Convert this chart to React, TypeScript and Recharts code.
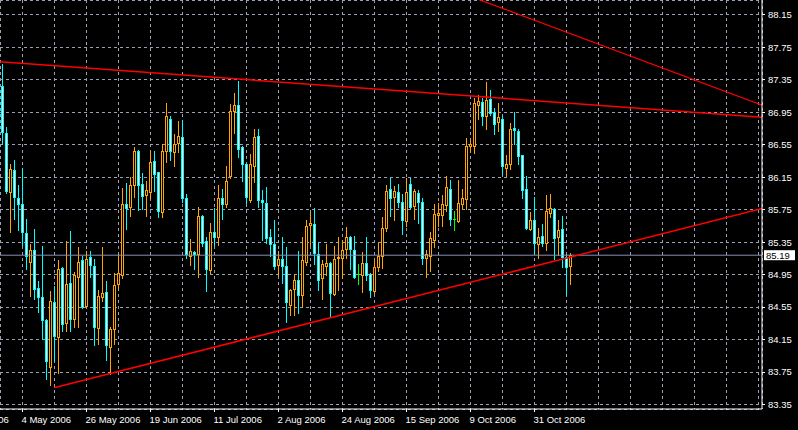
import React from 'react';
import { ComposedChart, Bar, XAxis, YAxis, CartesianGrid, ReferenceLine } from 'recharts';

// OHLC per trading bar (bar 0 = 27 Apr 2006)
const OPEN = [
  87.28, 86.69, 85.97, 86.24, 85.90, 85.82, 85.46, 85.11, 85.25, 84.78,
  84.67, 84.39, 83.81, 84.61, 84.18, 85.03, 84.35, 84.85, 84.41, 84.92,
  85.13, 84.56, 85.17, 85.06, 84.29, 84.67, 84.74, 84.06, 84.28, 84.83,
  84.95, 85.82, 85.78, 86.05, 86.48, 86.07, 85.93, 85.97, 86.35, 86.21,
  85.72, 86.47, 86.87, 86.46, 86.57, 86.65, 85.89, 85.18, 85.23, 85.20,
  85.67, 85.36, 85.01, 85.47, 85.41, 85.89, 85.82, 86.16, 86.97, 87.04,
  86.52, 86.32, 85.87, 86.29, 86.66, 85.87, 85.83, 85.41, 85.33, 85.07,
  85.14, 85.06, 84.58, 84.77, 84.88, 84.70, 85.11, 85.56, 85.58, 85.20,
  84.91, 85.06, 85.09, 84.71, 85.15, 85.15, 85.27, 85.42, 85.25, 84.96,
  84.95, 85.10, 84.96, 84.75, 85.05, 85.18, 85.52, 86.00, 85.91, 85.97,
  85.84, 85.61, 86.07, 85.80, 85.96, 85.84, 85.15, 85.18, 85.38, 85.69,
  85.69, 85.81, 86.01, 85.63, 85.61, 85.82, 85.88, 86.53, 86.54, 87.04,
  87.08, 86.90, 87.12, 86.95, 86.83, 86.87, 86.27, 86.31, 86.76, 86.72,
  86.42, 86.01, 85.51, 85.62, 85.33, 85.43, 85.34, 85.71, 85.76, 85.42,
  85.51, 85.17, 85.06,
];
const HIGH = [
  87.54, 86.77, 86.32, 86.36, 86.05, 86.27, 85.64, 85.33, 85.51, 84.87,
  85.30, 84.41, 84.75, 84.81, 85.13, 85.04, 85.36, 85.49, 84.98, 85.29,
  85.18, 85.24, 85.24, 85.14, 84.76, 85.29, 84.87, 84.30, 84.97, 85.21,
  86.02, 86.08, 86.15, 86.52, 86.49, 86.20, 86.11, 86.48, 86.48, 86.22,
  86.56, 87.06, 86.90, 86.68, 86.84, 86.86, 85.94, 85.39, 85.24, 85.78,
  85.68, 85.42, 85.59, 85.77, 86.06, 86.00, 86.29, 87.05, 87.19, 87.34,
  86.53, 86.33, 86.44, 86.75, 86.75, 85.99, 86.03, 85.51, 85.62, 85.24,
  85.42, 85.29, 84.77, 84.96, 85.24, 85.42, 85.62, 85.71, 85.77, 85.34,
  85.13, 85.33, 85.11, 85.30, 85.42, 85.38, 85.54, 85.43, 85.43, 85.08,
  85.23, 85.41, 84.97, 85.14, 85.34, 85.66, 86.05, 86.14, 86.04, 86.07,
  85.95, 86.14, 86.14, 86.00, 85.99, 85.90, 85.25, 85.47, 85.82, 85.83,
  85.93, 86.17, 86.12, 85.73, 86.12, 86.01, 86.63, 86.61, 87.13, 87.17,
  87.13, 87.32, 87.23, 87.00, 87.06, 86.90, 86.42, 86.82, 86.96, 86.75,
  86.43, 86.17, 85.72, 85.91, 85.52, 85.57, 85.93, 85.94, 85.77, 85.62,
  85.67, 85.20, 85.22,
];
const LOW = [
  86.56, 85.96, 85.48, 85.64, 85.50, 85.31, 85.02, 84.69, 84.65, 84.49,
  84.16, 83.67, 83.59, 83.89, 83.74, 84.25, 84.25, 84.26, 84.31, 84.31,
  84.54, 84.55, 84.92, 84.08, 84.10, 84.63, 83.90, 83.73, 84.09, 84.79,
  84.91, 85.51, 85.67, 85.91, 85.75, 85.76, 85.67, 85.89, 85.98, 85.66,
  85.66, 86.34, 86.36, 86.29, 86.46, 85.84, 85.16, 85.07, 85.02, 84.92,
  85.30, 84.75, 84.97, 85.31, 85.32, 85.63, 85.78, 86.14, 86.69, 86.40,
  86.11, 85.83, 85.85, 86.09, 85.78, 85.38, 85.34, 85.18, 85.02, 84.94,
  84.85, 84.37, 84.45, 84.45, 84.48, 84.55, 85.07, 85.31, 85.08, 84.76,
  84.65, 84.94, 84.44, 84.70, 84.76, 84.91, 85.16, 85.02, 84.91, 84.83,
  84.74, 84.88, 84.68, 84.73, 84.99, 85.03, 85.49, 85.67, 85.62, 85.78,
  85.45, 85.55, 85.77, 85.64, 85.59, 85.08, 84.92, 85.00, 85.29, 85.55,
  85.55, 85.73, 85.56, 85.50, 85.60, 85.77, 85.76, 86.46, 86.45, 86.87,
  86.80, 86.74, 86.92, 86.68, 86.72, 86.19, 86.16, 86.25, 86.56, 86.32,
  85.89, 85.51, 85.50, 85.21, 85.15, 85.30, 85.25, 85.66, 85.14, 85.19,
  85.05, 84.70, 84.83,
];
const CLOSE = [
  86.71, 85.98, 86.25, 85.91, 85.82, 85.47, 85.18, 85.26, 84.77, 84.68,
  84.39, 83.89, 84.62, 84.19, 85.02, 84.34, 84.84, 84.40, 84.94, 85.11,
  84.55, 85.14, 85.07, 84.30, 84.69, 84.72, 84.08, 84.28, 84.82, 84.97,
  85.82, 85.77, 86.05, 86.47, 86.05, 85.92, 85.99, 86.34, 86.19, 85.73,
  86.48, 86.90, 86.47, 86.56, 86.66, 85.90, 85.20, 85.24, 85.20, 85.67,
  85.34, 85.02, 85.48, 85.41, 85.89, 85.82, 86.11, 86.97, 87.04, 86.50,
  86.31, 85.91, 86.32, 86.65, 85.87, 85.84, 85.40, 85.33, 85.06, 85.14,
  85.06, 84.61, 84.76, 84.89, 84.70, 85.13, 85.55, 85.59, 85.22, 84.89,
  85.08, 85.10, 84.73, 85.14, 85.17, 85.26, 85.41, 85.27, 84.92, 84.96,
  85.09, 84.95, 84.76, 85.04, 85.18, 85.53, 85.98, 85.89, 85.98, 85.85,
  85.62, 85.97, 85.78, 85.98, 85.85, 85.16, 85.20, 85.40, 85.70, 85.71,
  85.82, 86.03, 85.63, 85.63, 85.83, 85.89, 86.53, 86.56, 87.06, 87.09,
  86.91, 87.10, 86.94, 86.81, 86.89, 86.29, 86.31, 86.75, 86.73, 86.41,
  85.99, 85.52, 85.62, 85.34, 85.42, 85.34, 85.73, 85.77, 85.40, 85.50,
  85.17, 85.05, 85.19,
];

// date labels on the bar-index axis
const DATE_TICKS = [-11, 5, 21, 37, 53, 69, 85, 101, 117, 133];
const DATE_LABELS = ['12 Apr 2006', '4 May 2006', '26 May 2006', '19 Jun 2006', '11 Jul 2006', '2 Aug 2006', '24 Aug 2006', '15 Sep 2006', '9 Oct 2006', '31 Oct 2006'];
const GRID_X = [-11, 5, 13, 21, 29, 37, 45, 53, 61, 69, 77, 85, 93, 101, 109, 117, 125, 133, 141, 149, 157, 165, 173, 181, 189];
const PRICE_TICKS = [83.35, 83.75, 84.15, 84.55, 84.95, 85.35, 85.75, 86.15, 86.55, 86.95, 87.35, 87.75, 88.15];
const BID = 85.19;

// trend lines: [x1, y1, x2, y2] in (bar index, price)
const TREND_UPPER = [-1, 87.5758, 190, 86.891];
const TREND_STEEP = [110, 88.507, 190, 87.038];
const TREND_LOWER = [12.875, 83.557, 190, 85.766];

const data = OPEN.map((o, i) => ({
  i,
  open: o,
  high: HIGH[i],
  low: LOW[i],
  close: CLOSE[i],
  range: [LOW[i], HIGH[i]],
}));

const FONT = '"Liberation Sans", Arial, sans-serif';
const BULL = '#ffa500';
const BEAR = '#00ffff';
const DOJI = '#00ff00';
const GRID = '#9aa0b4';

const Candle = (props: any) => {
  const { x, y, width, height, payload } = props;
  if (x == null || y == null || !payload) return null;
  const cx = x + width / 2;
  const { open, close, high, low } = payload;
  const span = high - low;
  const py = (v: number) => (span > 0 ? y + ((high - v) / span) * height : y);
  const yh = Math.round(py(high));
  const yl = Math.round(py(low));
  if (open === close) {
    const yo = Math.round(py(open)) + 0.5;
    return (
      <g shapeRendering="crispEdges">
        <line x1={cx} x2={cx} y1={yh} y2={yl + 1} stroke={DOJI} strokeWidth={1} />
        <line x1={cx - 1.5} x2={cx + 1.5} y1={yo} y2={yo} stroke={DOJI} strokeWidth={1} />
      </g>
    );
  }
  const bull = close > open;
  const col = bull ? BULL : BEAR;
  const top = Math.round(py(Math.max(open, close)));
  const bot = Math.round(py(Math.min(open, close)));
  return (
    <g shapeRendering="crispEdges">
      <line x1={cx} x2={cx} y1={yh} y2={yl + 1} stroke={col} strokeWidth={1} />
      <rect x={cx - 1} y={top + 0.5} width={2} height={Math.max(bot - top, 0)} fill={bull ? '#000' : '#fff'} stroke={col} strokeWidth={1} />
    </g>
  );
};

const XTick = (props: any) => {
  const { x, y, payload } = props;
  const idx = DATE_TICKS.indexOf(payload.value);
  if (idx < 0) return null;
  return (
    <g>
      <line x1={x} x2={x} y1={y} y2={y + 3} stroke="#fff" strokeWidth={1} shapeRendering="crispEdges" />
      <text x={x - 1} y={y + 14} fill="#fff" fontSize={9.5} fontFamily={FONT} textAnchor="start">
        {DATE_LABELS[idx]}
      </text>
    </g>
  );
};

const YTick = (props: any) => {
  const { x, y, payload } = props;
  return (
    <g>
      <line x1={x} x2={x + 3} y1={y} y2={y} stroke="#fff" strokeWidth={1} shapeRendering="crispEdges" />
      <text x={x + 6} y={y} dy="0.35em" fill="#fff" fontSize={9.5} fontFamily={FONT} textAnchor="start">
        {Number(payload.value).toFixed(2)}
      </text>
    </g>
  );
};

const BidLabel = (props: any) => {
  const vb = props.viewBox || {};
  const x = (vb.x || 0) + (vb.width || 0) + 2;
  const y = vb.y || 0;
  return (
    <g>
      <rect x={x} y={y - 5} width={31} height={10} fill="#fff" />
      <text x={x + 2} y={y} dy="0.36em" fill="#000" fontSize={9.5} fontFamily={FONT}>
        {BID.toFixed(2)}
      </text>
    </g>
  );
};

export default function App() {
  return (
    <div style={{ position: 'absolute', left: 0, top: 0, width: 798, height: 430, background: '#000', overflow: 'hidden' }}>
      <ComposedChart width={798} height={430} data={data} margin={{ top: 0, right: 0, bottom: 0, left: 0 }}>
        <CartesianGrid stroke={GRID} strokeDasharray="3 3" shapeRendering="crispEdges" />
        <XAxis
          dataKey="i"
          type="number"
          domain={[-0.625, 189.875]}
          allowDataOverflow
          ticks={GRID_X}
          interval={0}
          height={21}
          tickSize={0}
          tickMargin={0}
          tickLine={false}
          axisLine={{ stroke: '#fff' }}
          tick={<XTick />}
        />
        <YAxis
          orientation="right"
          type="number"
          domain={[83.2948, 88.3348]}
          allowDataOverflow
          ticks={PRICE_TICKS}
          interval={0}
          width={36}
          tickSize={0}
          tickMargin={0}
          tickLine={false}
          axisLine={{ stroke: '#fff' }}
          tick={<YTick />}
        />
        <Bar dataKey="range" barSize={3} shape={<Candle />} isAnimationActive={false} />
        <ReferenceLine y={BID} stroke="#8a8fb4" strokeWidth={1} label={<BidLabel />} />
        <ReferenceLine segment={[{ x: TREND_UPPER[0], y: TREND_UPPER[1] }, { x: TREND_UPPER[2], y: TREND_UPPER[3] }]} stroke="#ff0000" strokeWidth={1.5} ifOverflow="hidden" />
        <ReferenceLine segment={[{ x: TREND_STEEP[0], y: TREND_STEEP[1] }, { x: TREND_STEEP[2], y: TREND_STEEP[3] }]} stroke="#ff0000" strokeWidth={1.2} ifOverflow="hidden" />
        <ReferenceLine segment={[{ x: TREND_LOWER[0], y: TREND_LOWER[1] }, { x: TREND_LOWER[2], y: TREND_LOWER[3] }]} stroke="#ff0000" strokeWidth={1.5} ifOverflow="hidden" />
      </ComposedChart>
    </div>
  );
}
